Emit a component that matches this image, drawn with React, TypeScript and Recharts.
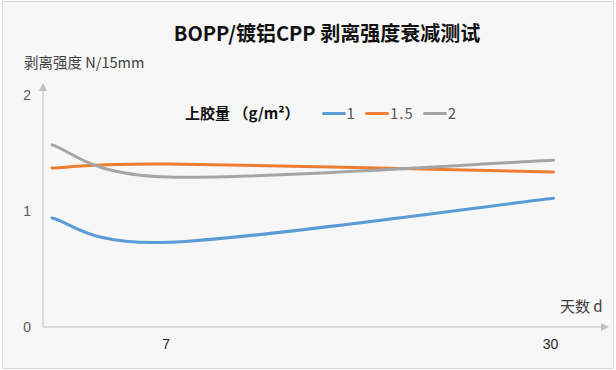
import React from "react";
import { LineChart, Line, XAxis, YAxis, ReferenceDot } from "recharts";

const days = [0, 7, 30];
const series1 = [0.94, 0.73, 1.11];
const series15 = [1.37, 1.405, 1.336];
const series2 = [1.57, 1.292, 1.437];
const seriesNames = ["1", "1.5", "2"];
const seriesColors = ["#5B9BD5", "#ED7D31", "#A5A5A5"];
const xTicks = [7, 30];
const yTicks = [0, 1, 2];

const data = days.map((d, i) => ({ day: d, s1: series1[i], s15: series15[i], s2: series2[i] }));

const FONT = '"Noto Sans CJK SC", "Noto Sans", sans-serif';

// Excel-like smoothing (Catmull-Rom with 1/6 control offsets)
function excelSmooth(context: any) {
  let pts: number[][] = [];
  return {
    areaStart() {},
    areaEnd() {},
    lineStart() {
      pts = [];
    },
    point(x: number, y: number) {
      pts.push([+x, +y]);
    },
    lineEnd() {
      const n = pts.length;
      if (!n) return;
      context.moveTo(pts[0][0], pts[0][1]);
      for (let i = 0; i < n - 1; i++) {
        const p0 = pts[Math.max(i - 1, 0)];
        const p1 = pts[i];
        const p2 = pts[i + 1];
        const p3 = pts[Math.min(i + 2, n - 1)];
        const c1x = p1[0] + (p2[0] - p0[0]) / 6;
        const c1y = p1[1] + (p2[1] - p0[1]) / 6;
        const c2x = p2[0] - (p3[0] - p1[0]) / 6;
        const c2y = p2[1] - (p3[1] - p1[1]) / 6;
        context.bezierCurveTo(c1x, c1y, c2x, c2y, p2[0], p2[1]);
      }
    },
  };
}

const YTick = (props: any) => {
  const { x, y, payload } = props;
  return (
    <text x={x} y={y} dy={5} textAnchor="end" fontSize={14} fill="#595959" fontFamily='"Liberation Sans", Arial, sans-serif'>
      {payload.value}
    </text>
  );
};

const XTick = (props: any) => {
  const { x, y, payload } = props;
  return (
    <text x={x - 3} y={y} dy={10} textAnchor="middle" fontSize={14} fill="#262626" fontFamily='"Liberation Sans", Arial, sans-serif'>
      {payload.value}
    </text>
  );
};

const RightArrow = (props: any) => {
  const { cx, cy } = props;
  return <path d={`M${cx - 6},${cy - 4} L${cx + 2},${cy} L${cx - 6},${cy + 4} Z`} fill="#BFBFBF" />;
};

const UpArrow = (props: any) => {
  const { cx, cy } = props;
  return <path d={`M${cx - 4},${cy + 6} L${cx},${cy - 2} L${cx + 4},${cy + 6} Z`} fill="#BFBFBF" />;
};

const seriesKeys = ["s1", "s15", "s2"];

export default function App() {
  return (
    <div style={{ position: "absolute", left: 0, top: 0, width: 616, height: 370, background: "#fff" }}>
      <div
        style={{
          position: "absolute",
          left: 2,
          top: 1,
          width: 610,
          height: 366,
          border: "1px solid #D9D9D9",
          background: "#F7F7F7",
        }}
      />
      <div
        style={{
          position: "absolute",
          left: 327,
          top: 33,
          transform: "translate(-50%, -50%)",
          fontFamily: FONT,
          fontSize: 20,
          fontWeight: 700,
          color: "#111",
          whiteSpace: "nowrap",
          lineHeight: 1,
        }}
      >
        BOPP/镀铝CPP 剥离强度衰减测试
      </div>
      <div
        style={{
          position: "absolute",
          left: 24,
          top: 62,
          transform: "translateY(-50%)",
          fontFamily: FONT,
          fontSize: 14.5,
          color: "#404040",
          whiteSpace: "nowrap",
          lineHeight: 1,
        }}
      >
        剥离强度 N/15mm
      </div>
      <div
        style={{
          position: "absolute",
          left: 560,
          top: 305,
          transform: "translateY(-50%)",
          fontFamily: FONT,
          fontSize: 15,
          color: "#404040",
          whiteSpace: "nowrap",
          lineHeight: 1,
        }}
      >
        天数 d
      </div>
      <div
        style={{
          position: "absolute",
          left: 185,
          top: 113,
          transform: "translateY(-50%)",
          display: "flex",
          alignItems: "center",
          fontFamily: FONT,
          fontSize: 15,
          whiteSpace: "nowrap",
          lineHeight: "18px",
        }}
      >
        <span style={{ color: "#111", fontWeight: 700, marginRight: 22 }}>上胶量 （g/m²）</span>
        {seriesNames.map((name, i) => (
          <span key={name} style={{ display: "flex", alignItems: "center", marginRight: 9 }}>
            <span style={{ display: "inline-block", width: 24, height: 3, borderRadius: 2, background: seriesColors[i], marginRight: 1 }} />
            <span style={{ color: "#595959", letterSpacing: 1 }}>{name}</span>
          </span>
        ))}
      </div>
      <div style={{ position: "absolute", left: 0, top: 0 }}>
        <LineChart width={616} height={370} data={data} margin={{ top: 85, right: 9, bottom: 13, left: 13 }}>
          <XAxis
            dataKey="day"
            type="number"
            domain={[-0.54, 33.2]}
            allowDataOverflow
            ticks={xTicks}
            tickLine={false}
            tickSize={0}
            tickMargin={12}
            height={30}
            axisLine={{ stroke: "#BFBFBF", strokeWidth: 1 }}
            tick={<XTick />}
          />
          <YAxis
            type="number"
            domain={[0, 2.086]}
            allowDataOverflow
            ticks={yTicks}
            tickLine={false}
            tickSize={0}
            tickMargin={12}
            width={30}
            axisLine={{ stroke: "#BFBFBF", strokeWidth: 1 }}
            tick={<YTick />}
          />
          {seriesKeys.map((k, i) => (
            <Line
              key={k}
              dataKey={k}
              name={seriesNames[i]}
              type={excelSmooth as any}
              stroke={seriesColors[i]}
              strokeWidth={3}
              strokeLinecap="round"
              dot={false}
              activeDot={false}
              isAnimationActive={false}
            />
          ))}
          <ReferenceDot x={33.2} y={0} r={4} ifOverflow="visible" shape={<RightArrow />} />
          <ReferenceDot x={-0.54} y={2.086} r={4} ifOverflow="visible" shape={<UpArrow />} />
        </LineChart>
      </div>
    </div>
  );
}
